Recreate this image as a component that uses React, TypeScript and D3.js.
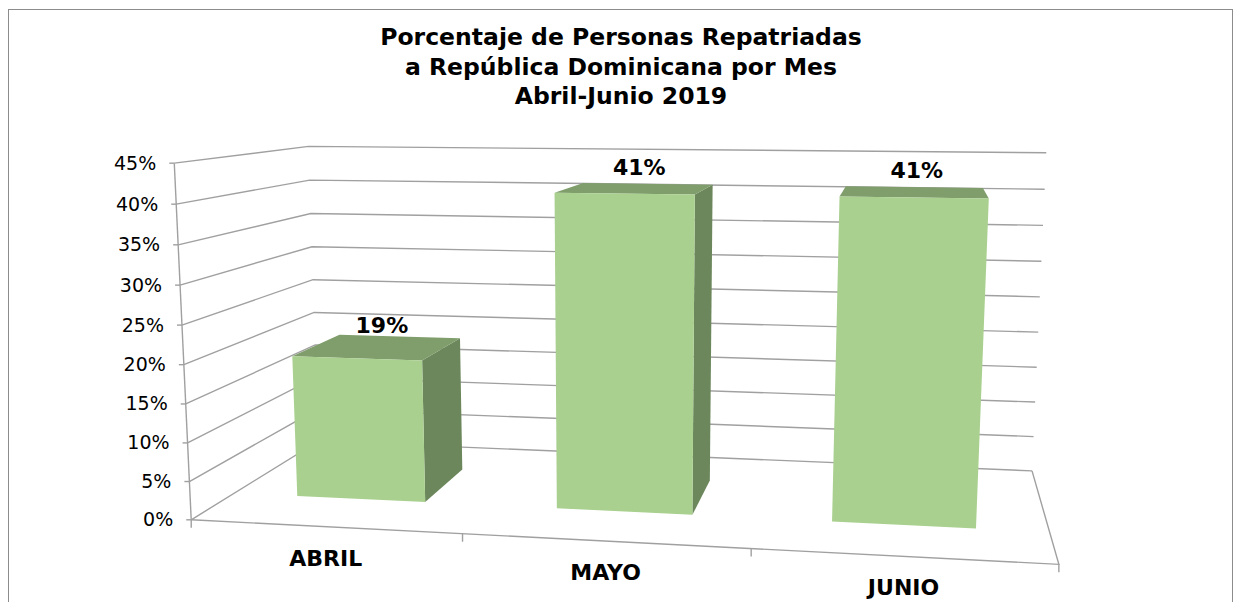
import React from 'react';
import * as d3 from 'd3';

const categories = ['ABRIL', 'MAYO', 'JUNIO'];
const values = [0.19, 0.41, 0.41];
const yMax = 0.45;
const titleLines = [
  'Porcentaje de Personas Repatriadas',
  'a República Dominicana por Mes',
  'Abril-Junio 2019',
];

// Perspective calibration: world (X category units, Y %, Z depth 0 front..1 back) -> screen
const calib: number[][] = [
  [0, 45, 0, 175, 164], [0, 40, 0, 177, 204], [0, 35, 0, 178, 245], [0, 30, 0, 180, 285],
  [0, 25, 0, 181, 325], [0, 20, 0, 183, 364], [0, 15, 0, 185, 403], [0, 10, 0, 187, 442],
  [0, 5, 0, 189, 481], [0, 0, 0, 193, 519],
  [0, 45, 1, 308, 146], [0, 40, 1, 310, 181], [0, 35, 1, 311, 213], [0, 30, 1, 312, 247],
  [0, 25, 1, 313, 280], [0, 20, 1, 314, 313],
  [3, 45, 1, 1047, 153], [3, 40, 1, 1045, 189], [3, 35, 1, 1043, 225], [3, 30, 1, 1041, 261],
  [3, 25, 1, 1039, 297], [3, 20, 1, 1038, 332], [3, 15, 1, 1037, 367], [3, 10, 1, 1035, 402],
  [3, 5, 1, 1034, 436], [3, 0, 1, 1032, 471],
  [1, 0, 0, 463, 536], [2, 0, 0, 752, 550], [3, 0, 0, 1058, 564],
];

const CU = 620, CV = 350, S = 400;

function solveLinear(A: number[][], b: number[]): number[] {
  const n = b.length;
  const M = A.map((r, i) => [...r, b[i]]);
  for (let c = 0; c < n; c++) {
    let piv = c;
    for (let r = c + 1; r < n; r++) if (Math.abs(M[r][c]) > Math.abs(M[piv][c])) piv = r;
    [M[c], M[piv]] = [M[piv], M[c]];
    for (let r = 0; r < n; r++) {
      if (r === c) continue;
      const f = M[r][c] / M[c][c];
      for (let k = c; k <= n; k++) M[r][k] -= f * M[c][k];
    }
  }
  return M.map((r, i) => r[n] / r[i]);
}

function fit(): number[] {
  const rows: number[][] = [];
  const rhs: number[] = [];
  for (const [X, Yp, Z, u0, v0] of calib) {
    const Y = Yp / 10;
    const u = (u0 - CU) / S, v = (v0 - CV) / S;
    rows.push([X, Y, Z, 1, 0, 0, 0, 0, -u * X, -u * Y, -u * Z]); rhs.push(u);
    rows.push([0, 0, 0, 0, X, Y, Z, 1, -v * X, -v * Y, -v * Z]); rhs.push(v);
  }
  const AtA: number[][] = Array.from({ length: 11 }, () => new Array(11).fill(0));
  const Atb: number[] = new Array(11).fill(0);
  rows.forEach((r, i) => {
    for (let a = 0; a < 11; a++) {
      Atb[a] += r[a] * rhs[i];
      for (let c = 0; c < 11; c++) AtA[a][c] += r[a] * r[c];
    }
  });
  return solveLinear(AtA, Atb);
}

const P = fit();
const yWorld = d3.scaleLinear().domain([0, yMax]).range([0, 4.5]);

function proj(X: number, val: number, Z: number): [number, number] {
  const Y = yWorld(val);
  const w = P[8] * X + P[9] * Y + P[10] * Z + 1;
  const u = (P[0] * X + P[1] * Y + P[2] * Z + P[3]) / w;
  const v = (P[4] * X + P[5] * Y + P[6] * Z + P[7]) / w;
  return [u * S + CU, v * S + CV];
}

const barPad = 0.5;
const zFront = 0.3, zBack = 0.7;
const xBand = d3.scaleBand<string>().domain(categories).range([0, 3]).paddingInner(barPad).paddingOuter(barPad / 2);
const yTicks = d3.scaleLinear().domain([0, yMax]).ticks(9);
const fmt = d3.format('.0%');

const GRID = '#a0a0a0';
const FRONT = '#a9d08e';
const TOP = '#7f9e6b';
const SIDE = '#6c875b';
const FONT = '"DejaVu Sans", Verdana, sans-serif';

const pts = (arr: [number, number][]) => arr.map(p => p.join(',')).join(' ');

export default function App() {
  const line = d3.line();
  return (
    <svg width={1242} height={602} style={{ position: 'absolute', left: 0, top: 0 }} xmlns="http://www.w3.org/2000/svg">
      <rect x={0} y={0} width={1242} height={602} fill="#fff" />
      <rect x={8.5} y={9.5} width={1224} height={620} fill="none" stroke="#8c8c8c" strokeWidth={1} />
      {titleLines.map((t, i) => (
        <text key={t} x={621} y={45 + i * 29.5} textAnchor="middle" fontFamily={FONT} fontWeight="bold" fontSize={23.5} fill="#000">{t}</text>
      ))}
      {/* gridlines: side wall + back wall */}
      {yTicks.map(t => (
        <path key={'g' + t} d={line([proj(0, t, 0), proj(0, t, 1), proj(3, t, 1)]) || ''} fill="none" stroke={GRID} strokeWidth={1.4} />
      ))}
      {/* left axis */}
      <path d={line([proj(0, 0, 0), proj(0, yMax, 0)]) || ''} stroke={GRID} strokeWidth={1.4} fill="none" />
      {yTicks.map(t => {
        const [u, v] = proj(0, t, 0);
        return (
          <g key={'yt' + t}>
            <line x1={u - 5} y1={v} x2={u} y2={v} stroke={GRID} strokeWidth={1.4} />
            <text x={u - 18} y={v + 6.5} textAnchor="end" fontFamily={FONT} fontSize={19} fill="#000">{fmt(t)}</text>
          </g>
        );
      })}
      {/* floor */}
      <path d={line([proj(0, 0, 0), proj(3, 0, 0), proj(3, 0, 1)]) || ''} fill="none" stroke={GRID} strokeWidth={1.4} />
      {[0, 1, 2, 3].map(k => {
        const [u, v] = proj(k, 0, 0);
        return <line key={'xt' + k} x1={u} y1={v} x2={u} y2={v + 8} stroke={GRID} strokeWidth={1.4} />;
      })}
      {/* bars */}
      {categories.map((c, i) => {
        const x0 = xBand(c)!;
        const x1 = x0 + xBand.bandwidth();
        const h = values[i];
        const front: [number, number][] = [proj(x0, 0, zFront), proj(x1, 0, zFront), proj(x1, h, zFront), proj(x0, h, zFront)];
        const top: [number, number][] = [proj(x0, h, zFront), proj(x1, h, zFront), proj(x1, h, zBack), proj(x0, h, zBack)];
        const right: [number, number][] = [proj(x1, 0, zFront), proj(x1, 0, zBack), proj(x1, h, zBack), proj(x1, h, zFront)];
        const left: [number, number][] = [proj(x0, 0, zFront), proj(x0, 0, zBack), proj(x0, h, zBack), proj(x0, h, zFront)];
        const showRight = proj(x1, 0, zBack)[0] > proj(x1, 0, zFront)[0];
        const showLeft = proj(x0, 0, zBack)[0] < proj(x0, 0, zFront)[0];
        const cx = x0 + xBand.bandwidth() / 2;
        const lab = proj(cx, h, (zFront + zBack) / 2);
        const cat = proj(cx, 0, 0);
        return (
          <g key={c}>
            {showRight && <polygon points={pts(right)} fill={SIDE} />}
            {showLeft && <polygon points={pts(left)} fill={SIDE} />}
            <polygon points={pts(top)} fill={TOP} />
            <polygon points={pts(front)} fill={FRONT} />
            <text x={lab[0] + 3} y={lab[1] - 14} textAnchor="middle" fontFamily={FONT} fontWeight="bold" fontSize={22} fill="#000">{fmt(h)}</text>
            <text x={cat[0] + 1} y={cat[1] + 39} textAnchor="middle" fontFamily={FONT} fontWeight="bold" fontSize={22} fill="#000">{c}</text>
          </g>
        );
      })}
    </svg>
  );
}
